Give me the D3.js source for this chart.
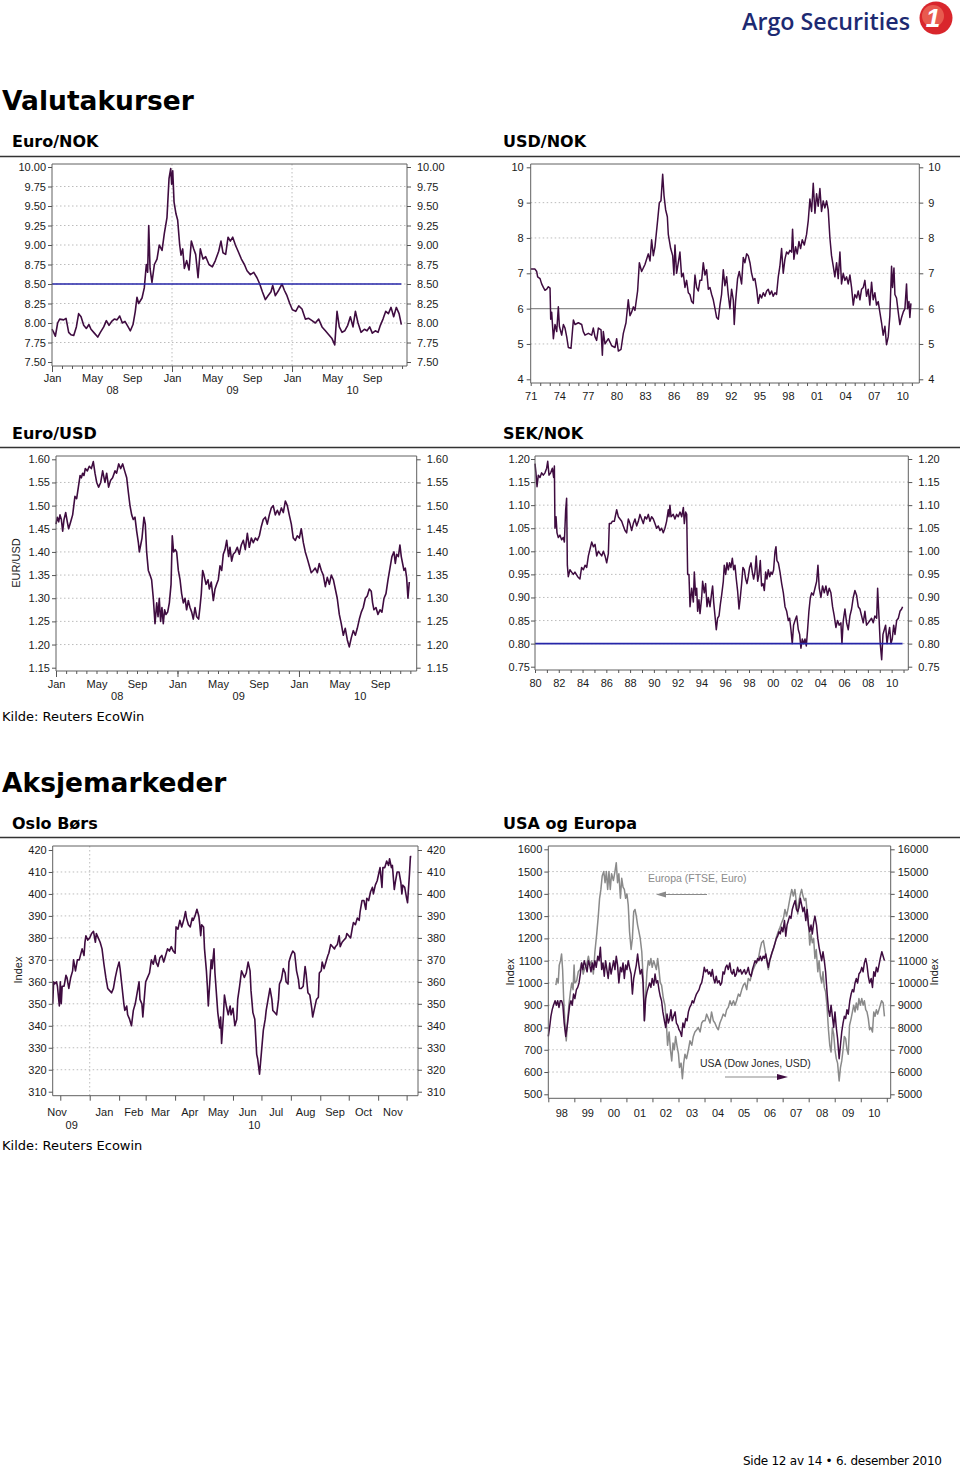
<!DOCTYPE html>
<html><head><meta charset="utf-8">
<script src="https://cdn.jsdelivr.net/npm/d3@7"></script>
<style>
body{margin:0;background:#fff;}
svg{display:block;}
</style></head><body>
<svg id="page" width="960" height="1467"></svg>
<script>
// ---------------- DATA ----------------
const euroNokDates = [2008.000,2008.014,2008.028,2008.047,2008.064,2008.097,2008.117,2008.139,2008.158,2008.181,2008.203,2008.222,2008.242,2008.264,2008.286,2008.308,2008.325,2008.353,2008.381,2008.403,2008.431,2008.453,2008.475,2008.497,2008.519,2008.542,2008.564,2008.586,2008.608,2008.631,2008.653,2008.675,2008.694,2008.708,2008.722,2008.750,2008.769,2008.786,2008.797,2008.806,2008.817,2008.833,2008.853,2008.875,2008.894,2008.917,2008.936,2008.958,2008.975,2008.989,2008.997,2009.006,2009.017,2009.033,2009.047,2009.064,2009.075,2009.089,2009.103,2009.122,2009.142,2009.161,2009.181,2009.197,2009.217,2009.236,2009.258,2009.281,2009.308,2009.336,2009.361,2009.389,2009.408,2009.425,2009.447,2009.467,2009.486,2009.506,2009.528,2009.556,2009.578,2009.603,2009.625,2009.653,2009.681,2009.708,2009.731,2009.753,2009.778,2009.800,2009.825,2009.839,2009.861,2009.889,2009.917,2009.936,2009.958,2009.981,2010.003,2010.031,2010.056,2010.083,2010.111,2010.139,2010.167,2010.194,2010.222,2010.250,2010.278,2010.306,2010.333,2010.356,2010.375,2010.394,2010.417,2010.439,2010.464,2010.486,2010.508,2010.528,2010.550,2010.575,2010.603,2010.625,2010.647,2010.669,2010.694,2010.717,2010.736,2010.758,2010.781,2010.803,2010.825,2010.847,2010.869,2010.892,2010.911];
const euroNokValues = [7.92,7.88,7.83,8.00,8.05,8.04,8.06,7.88,7.85,7.84,7.95,8.12,8.08,7.97,7.93,7.98,7.92,7.87,7.82,7.88,7.95,8.03,7.97,8.02,8.05,8.04,8.09,8.00,8.02,7.96,7.90,7.98,8.15,8.33,8.25,8.32,8.45,8.75,8.65,9.25,8.70,8.52,8.75,8.82,9.00,8.93,9.15,9.35,9.85,9.98,9.78,9.95,9.55,9.40,9.32,9.00,8.87,8.95,8.70,8.80,8.68,9.05,8.95,8.88,8.58,8.95,8.82,8.85,8.75,8.72,8.80,8.92,9.05,8.90,8.88,9.10,9.05,9.10,9.00,8.90,8.82,8.75,8.67,8.62,8.65,8.58,8.50,8.40,8.30,8.35,8.40,8.48,8.35,8.42,8.50,8.42,8.35,8.25,8.17,8.15,8.22,8.18,8.05,8.06,8.03,8.00,8.05,7.95,7.90,7.85,7.80,7.72,8.15,7.95,7.88,7.90,7.97,8.08,7.95,8.15,8.00,7.88,7.92,7.90,7.95,7.87,7.90,7.88,7.97,8.05,8.15,8.12,8.20,8.08,8.20,8.12,7.98];
const euroNokTarget = 8.5;

const usdNokDates = [1971.00,1971.45,1971.63,1971.73,1971.98,1972.15,1972.33,1972.50,1972.68,1972.85,1973.03,1973.10,1973.20,1973.38,1973.55,1973.73,1973.90,1974.01,1974.25,1974.43,1974.60,1974.78,1974.95,1975.23,1975.48,1975.65,1976.00,1976.35,1976.52,1976.70,1977.05,1977.40,1977.57,1977.75,1977.92,1978.10,1978.38,1978.52,1978.62,1978.80,1979.15,1979.50,1979.85,1980.02,1980.20,1980.48,1980.72,1981.00,1981.24,1981.42,1981.59,1981.77,1981.94,1982.22,1982.40,1982.64,1982.99,1983.34,1983.52,1983.69,1983.87,1984.04,1984.32,1984.50,1984.67,1984.85,1984.99,1985.16,1985.34,1985.44,1985.69,1985.90,1986.03,1986.14,1986.31,1986.49,1986.66,1986.84,1987.01,1987.19,1987.36,1987.54,1987.71,1987.89,1988.06,1988.24,1988.41,1988.59,1988.76,1988.94,1989.11,1989.29,1989.46,1989.64,1989.81,1989.99,1990.16,1990.34,1990.51,1990.69,1990.86,1991.03,1991.21,1991.38,1991.56,1991.73,1991.91,1992.08,1992.26,1992.36,1992.50,1992.71,1992.89,1993.13,1993.31,1993.48,1993.66,1993.83,1994.01,1994.18,1994.36,1994.53,1994.71,1994.88,1995.06,1995.23,1995.41,1995.58,1995.76,1995.93,1996.10,1996.28,1996.45,1996.63,1996.80,1996.98,1997.15,1997.33,1997.50,1997.68,1997.85,1998.03,1998.20,1998.38,1998.48,1998.62,1998.80,1998.97,1999.15,1999.32,1999.50,1999.71,1999.95,2000.13,2000.30,2000.48,2000.65,2000.83,2001.00,2001.17,2001.35,2001.52,2001.70,2001.87,2002.05,2002.22,2002.40,2002.57,2002.75,2002.92,2003.10,2003.27,2003.45,2003.62,2003.80,2003.97,2004.15,2004.32,2004.50,2004.67,2004.85,2005.02,2005.20,2005.37,2005.55,2005.72,2005.90,2006.07,2006.24,2006.42,2006.59,2006.77,2006.94,2007.12,2007.29,2007.47,2007.64,2007.82,2007.99,2008.17,2008.34,2008.52,2008.69,2008.87,2008.97,2009.12,2009.22,2009.39,2009.57,2009.74,2009.92,2010.09,2010.27,2010.44,2010.55,2010.69,2010.79,2010.90];
const usdNokValues = [7.12,7.12,7.05,6.90,6.85,6.70,6.60,6.52,6.55,6.62,6.58,5.70,5.90,5.15,5.55,5.35,6.05,5.50,5.25,5.55,5.45,5.20,4.90,4.88,5.68,5.55,5.60,5.55,5.35,5.25,5.30,5.25,5.45,5.20,5.10,5.45,5.40,4.68,5.35,5.00,5.15,4.95,4.90,5.15,4.80,4.85,5.30,5.60,6.25,5.80,5.90,6.05,5.95,6.50,7.30,7.05,7.25,7.55,7.35,7.95,7.50,7.75,8.50,9.00,9.05,9.80,9.20,8.80,8.60,8.10,7.70,7.50,6.95,7.80,7.00,7.30,7.60,6.90,7.00,6.60,6.80,6.45,6.40,6.20,6.15,6.95,6.60,6.50,6.80,6.80,7.30,6.95,7.10,6.55,6.60,6.40,6.25,6.00,5.75,5.70,6.10,6.40,7.10,6.65,6.90,6.40,6.00,6.55,6.25,5.55,6.20,6.85,7.05,6.70,7.45,7.30,7.55,7.50,7.30,7.00,6.80,6.85,6.55,6.15,6.40,6.30,6.45,6.35,6.50,6.55,6.40,6.50,6.35,6.45,6.40,6.90,7.20,7.70,7.00,7.40,7.60,7.55,7.65,7.60,8.25,7.40,7.75,7.55,7.90,7.70,7.95,7.80,8.10,8.50,9.10,8.75,9.55,8.70,9.25,8.90,9.40,8.75,9.05,8.85,9.05,8.80,8.00,7.50,7.20,6.90,7.30,6.85,7.60,6.70,7.00,6.80,6.90,6.70,6.95,6.60,6.10,6.40,6.30,6.50,6.25,6.55,6.60,6.80,6.35,6.55,6.10,6.75,6.25,6.45,6.10,6.20,5.90,5.60,5.25,5.50,4.98,5.20,5.80,7.20,6.60,7.15,6.40,6.30,5.90,5.55,5.75,5.90,6.00,6.70,6.00,6.20,5.75,6.15];
const usdNokAverage = 6;

const euroUsdDates = [2008.000,2008.011,2008.022,2008.033,2008.044,2008.055,2008.066,2008.080,2008.093,2008.104,2008.121,2008.137,2008.156,2008.170,2008.184,2008.198,2008.209,2008.219,2008.230,2008.241,2008.258,2008.274,2008.291,2008.307,2008.321,2008.335,2008.351,2008.368,2008.384,2008.403,2008.417,2008.433,2008.450,2008.466,2008.486,2008.499,2008.516,2008.532,2008.549,2008.565,2008.582,2008.595,2008.609,2008.623,2008.636,2008.650,2008.664,2008.678,2008.686,2008.697,2008.708,2008.724,2008.735,2008.746,2008.760,2008.774,2008.787,2008.801,2008.815,2008.829,2008.840,2008.850,2008.861,2008.872,2008.883,2008.894,2008.905,2008.919,2008.933,2008.947,2008.957,2008.968,2008.982,2008.993,2009.007,2009.021,2009.034,2009.048,2009.062,2009.075,2009.089,2009.103,2009.117,2009.130,2009.144,2009.158,2009.174,2009.185,2009.196,2009.207,2009.218,2009.235,2009.251,2009.262,2009.278,2009.295,2009.309,2009.322,2009.336,2009.350,2009.364,2009.377,2009.391,2009.405,2009.421,2009.432,2009.446,2009.459,2009.476,2009.492,2009.509,2009.525,2009.542,2009.558,2009.575,2009.591,2009.608,2009.624,2009.641,2009.657,2009.674,2009.690,2009.706,2009.723,2009.739,2009.756,2009.772,2009.788,2009.805,2009.822,2009.838,2009.855,2009.871,2009.888,2009.904,2009.920,2009.937,2009.953,2009.970,2009.986,2010.003,2010.019,2010.036,2010.052,2010.069,2010.085,2010.101,2010.118,2010.134,2010.151,2010.167,2010.184,2010.200,2010.217,2010.233,2010.250,2010.266,2010.283,2010.299,2010.315,2010.332,2010.348,2010.365,2010.381,2010.398,2010.414,2010.431,2010.447,2010.464,2010.480,2010.497,2010.513,2010.529,2010.546,2010.562,2010.579,2010.595,2010.606,2010.617,2010.634,2010.650,2010.667,2010.683,2010.700,2010.716,2010.733,2010.749,2010.765,2010.782,2010.793,2010.804,2010.818,2010.831,2010.842,2010.853,2010.864,2010.875,2010.886,2010.897,2010.908];
const euroUsdValues = [1.46,1.475,1.465,1.48,1.47,1.445,1.47,1.485,1.465,1.45,1.465,1.48,1.52,1.515,1.54,1.565,1.56,1.57,1.565,1.58,1.575,1.585,1.58,1.595,1.57,1.55,1.54,1.55,1.575,1.55,1.57,1.54,1.555,1.56,1.575,1.57,1.59,1.58,1.59,1.575,1.56,1.53,1.50,1.48,1.47,1.475,1.445,1.42,1.40,1.415,1.43,1.475,1.46,1.40,1.36,1.35,1.34,1.30,1.245,1.29,1.26,1.30,1.25,1.28,1.245,1.275,1.265,1.27,1.29,1.33,1.435,1.40,1.405,1.40,1.36,1.34,1.31,1.29,1.30,1.275,1.295,1.28,1.27,1.255,1.28,1.26,1.255,1.28,1.31,1.36,1.35,1.33,1.34,1.32,1.335,1.295,1.32,1.33,1.34,1.37,1.36,1.395,1.405,1.425,1.39,1.41,1.38,1.395,1.40,1.41,1.395,1.415,1.425,1.405,1.44,1.41,1.43,1.42,1.43,1.425,1.435,1.455,1.47,1.475,1.46,1.48,1.495,1.50,1.48,1.49,1.48,1.495,1.485,1.51,1.50,1.48,1.46,1.43,1.425,1.435,1.43,1.45,1.42,1.40,1.385,1.37,1.355,1.36,1.365,1.355,1.375,1.36,1.35,1.325,1.345,1.33,1.35,1.34,1.32,1.30,1.265,1.245,1.22,1.235,1.21,1.195,1.215,1.23,1.22,1.235,1.255,1.27,1.28,1.30,1.305,1.32,1.315,1.29,1.275,1.28,1.265,1.275,1.27,1.30,1.31,1.34,1.365,1.39,1.40,1.375,1.395,1.39,1.415,1.39,1.375,1.36,1.365,1.345,1.30,1.335];

const sekNokDates = [1980.00,1980.08,1980.17,1980.28,1980.42,1980.56,1980.70,1980.84,1980.98,1981.07,1981.18,1981.32,1981.46,1981.57,1981.63,1981.68,1981.77,1981.85,1981.96,1982.10,1982.24,1982.38,1982.47,1982.58,1982.66,1982.72,1982.80,1982.94,1983.08,1983.22,1983.36,1983.59,1983.78,1983.92,1984.07,1984.21,1984.35,1984.49,1984.63,1984.77,1984.91,1985.05,1985.19,1985.33,1985.47,1985.61,1985.75,1985.89,1986.03,1986.17,1986.25,1986.39,1986.50,1986.67,1986.87,1987.01,1987.15,1987.29,1987.43,1987.57,1987.71,1987.85,1987.99,1988.13,1988.27,1988.41,1988.55,1988.69,1988.83,1988.97,1989.11,1989.25,1989.39,1989.53,1989.67,1989.81,1989.95,1990.09,1990.23,1990.37,1990.51,1990.65,1990.79,1990.93,1991.07,1991.21,1991.27,1991.35,1991.44,1991.63,1991.77,1991.91,1992.05,1992.20,1992.34,1992.48,1992.56,1992.67,1992.76,1992.84,1992.95,1993.04,1993.18,1993.32,1993.40,1993.51,1993.60,1993.68,1993.79,1993.88,1994.02,1994.10,1994.24,1994.35,1994.47,1994.58,1994.72,1994.86,1994.94,1995.03,1995.14,1995.25,1995.36,1995.48,1995.59,1995.70,1995.84,1995.92,1996.04,1996.15,1996.26,1996.37,1996.48,1996.60,1996.71,1996.82,1996.93,1997.04,1997.16,1997.27,1997.38,1997.49,1997.61,1997.72,1997.83,1997.94,1998.05,1998.17,1998.28,1998.39,1998.50,1998.61,1998.73,1998.84,1998.95,1999.06,1999.18,1999.29,1999.40,1999.51,1999.62,1999.74,1999.85,1999.96,2000.07,2000.19,2000.27,2000.35,2000.47,2000.61,2000.75,2000.89,2001.03,2001.17,2001.31,2001.42,2001.53,2001.64,2001.75,2001.87,2002.01,2002.15,2002.26,2002.37,2002.48,2002.59,2002.71,2002.82,2002.93,2003.04,2003.16,2003.27,2003.41,2003.55,2003.69,2003.80,2003.91,2004.05,2004.19,2004.33,2004.47,2004.61,2004.75,2004.89,2005.03,2005.17,2005.31,2005.45,2005.59,2005.73,2005.82,2005.93,2006.07,2006.21,2006.35,2006.49,2006.63,2006.77,2006.91,2007.05,2007.19,2007.33,2007.47,2007.61,2007.75,2007.89,2008.03,2008.17,2008.31,2008.45,2008.59,2008.74,2008.82,2008.93,2009.04,2009.16,2009.27,2009.38,2009.49,2009.61,2009.72,2009.83,2009.94,2010.05,2010.17,2010.28,2010.42,2010.56,2010.70,2010.84,2010.92];
const sekNokValues = [1.19,1.17,1.14,1.165,1.16,1.17,1.165,1.17,1.18,1.195,1.165,1.17,1.18,1.16,1.185,1.05,1.075,1.04,1.03,1.035,1.025,1.03,1.02,1.09,1.115,0.97,0.945,0.96,0.955,0.95,0.955,0.945,0.94,0.965,0.96,0.97,0.965,0.99,1.005,1.02,1.01,1.015,0.99,1.00,0.995,0.99,1.00,0.99,0.975,0.995,1.06,1.06,1.065,1.065,1.09,1.075,1.07,1.065,1.055,1.045,1.04,1.07,1.06,1.045,1.06,1.07,1.055,1.065,1.08,1.07,1.06,1.075,1.07,1.08,1.065,1.075,1.07,1.06,1.05,1.055,1.045,1.05,1.04,1.05,1.065,1.09,1.075,1.10,1.075,1.08,1.07,1.08,1.075,1.085,1.075,1.095,1.06,1.085,1.08,0.95,0.95,0.88,0.92,0.89,0.955,0.905,0.92,0.87,0.895,0.865,0.90,0.935,0.91,0.93,0.88,0.90,0.88,0.91,0.925,0.89,0.86,0.83,0.855,0.86,0.885,0.905,0.935,0.97,0.95,0.975,0.96,0.975,0.965,0.985,0.96,0.97,0.94,0.915,0.875,0.90,0.93,0.965,0.96,0.94,0.93,0.945,0.965,0.975,0.955,0.94,0.955,0.99,0.935,0.95,0.98,0.925,0.93,0.915,0.955,0.94,0.96,0.945,0.955,0.95,0.96,1.00,1.01,0.98,0.975,0.955,0.93,0.91,0.88,0.87,0.85,0.855,0.83,0.80,0.84,0.85,0.86,0.83,0.82,0.79,0.81,0.80,0.81,0.795,0.83,0.87,0.90,0.91,0.905,0.92,0.935,0.97,0.92,0.90,0.925,0.91,0.925,0.905,0.92,0.91,0.88,0.86,0.835,0.85,0.84,0.845,0.80,0.85,0.875,0.845,0.83,0.86,0.875,0.90,0.915,0.905,0.88,0.875,0.86,0.845,0.87,0.84,0.845,0.85,0.855,0.845,0.86,0.855,0.92,0.86,0.80,0.765,0.82,0.83,0.84,0.80,0.82,0.835,0.80,0.81,0.84,0.82,0.85,0.855,0.87,0.875,0.88];
const sekNokTarget = 0.80;

// Oslo Børs: days relative to 1 Jan 2010
const osloDays = [-39,-38,-37,-35,-34,-32,-31,-30,-29,-27,-25,-24,-22,-20,-18,-17,-15,-13,-11,-8,-6,-5,-4,-2,0,2,4,6,7,9,11,13,15,17,19,21,23,25,27,29,31,32,34,36,37,39,40,42,44,46,48,50,52,53,55,56,58,59,61,63,65,67,69,70,72,74,76,78,80,82,84,86,88,90,91,93,95,97,99,101,102,104,106,108,109,111,113,115,116,117,118,120,121,123,124,125,127,128,129,131,132,134,135,137,138,139,141,142,144,146,148,149,151,153,155,156,158,160,162,163,165,167,169,170,172,174,176,177,179,180,181,183,185,186,188,190,192,193,195,197,199,200,202,204,206,207,209,210,212,214,216,218,220,221,223,225,227,228,230,232,234,235,237,239,241,242,244,245,247,249,251,252,254,256,258,259,261,263,264,266,268,270,271,273,275,277,278,280,282,284,285,287,289,291,292,294,296,298,299,301,303,305,306,308,309,311,313,315,316,318,319,321,322,324,326,328,329,330,332,334,335,337,338,339];
const osloValues = [350,360,359,360,358,349,360,350,358,358,363,362,357,362,365,370,365,370,370,375,372,378,381,379,380,382,383,378,382,380,378,375,368,362,357,356,355,357,362,366,369,366,358,350,347,349,345,343,340,347,350,355,360,352,350,344,355,360,362,364,370,368,372,369,367,371,372,369,372,375,374,376,374,373,385,384,388,385,388,392,389,386,385,389,388,390,393,390,386,381,386,385,375,365,358,349,363,370,366,375,364,352,346,339,344,332,345,354,349,345,349,345,348,340,343,352,358,365,363,362,364,369,365,356,346,343,327,325,318,323,328,338,343,347,352,357,352,347,346,345,352,359,361,366,364,360,359,369,372,374,373,365,361,357,357,358,367,364,355,354,348,344,348,352,353,364,365,369,366,369,372,373,377,376,375,376,377,381,376,378,379,380,382,381,380,385,387,386,389,388,392,397,397,393,398,397,401,403,400,404,406,410,412,403,412,412,415,413,416,412,413,402,405,410,410,405,400,404,403,398,396,409,417,417];

const europaDates = [1998.29,1998.33,1998.38,1998.42,1998.47,1998.51,1998.55,1998.59,1998.64,1998.69,1998.74,1998.79,1998.85,1998.90,1998.95,1998.99,1999.02,1999.09,1999.15,1999.22,1999.28,1999.34,1999.41,1999.47,1999.54,1999.60,1999.66,1999.73,1999.79,1999.86,1999.92,1999.97,2000.02,2000.07,2000.13,2000.18,2000.23,2000.28,2000.33,2000.38,2000.43,2000.50,2000.56,2000.61,2000.66,2000.71,2000.77,2000.82,2000.87,2000.92,2000.97,2001.02,2001.07,2001.12,2001.18,2001.23,2001.28,2001.33,2001.38,2001.43,2001.48,2001.53,2001.59,2001.64,2001.69,2001.74,2001.79,2001.84,2001.89,2001.94,2001.99,2002.05,2002.10,2002.15,2002.20,2002.25,2002.30,2002.35,2002.42,2002.48,2002.53,2002.58,2002.64,2002.69,2002.74,2002.79,2002.84,2002.89,2002.94,2003.00,2003.04,2003.10,2003.15,2003.20,2003.25,2003.31,2003.38,2003.44,2003.51,2003.57,2003.63,2003.70,2003.76,2003.83,2003.89,2003.95,2004.02,2004.08,2004.15,2004.21,2004.27,2004.34,2004.40,2004.47,2004.53,2004.59,2004.66,2004.72,2004.79,2004.85,2004.91,2004.98,2005.04,2005.11,2005.17,2005.23,2005.30,2005.36,2005.43,2005.49,2005.55,2005.62,2005.68,2005.75,2005.81,2005.87,2005.94,2006.00,2006.07,2006.13,2006.19,2006.26,2006.32,2006.39,2006.45,2006.51,2006.58,2006.64,2006.71,2006.77,2006.83,2006.90,2006.96,2007.03,2007.09,2007.15,2007.22,2007.28,2007.35,2007.41,2007.47,2007.54,2007.58,2007.63,2007.68,2007.73,2007.78,2007.84,2007.89,2007.94,2007.99,2008.04,2008.09,2008.14,2008.19,2008.24,2008.29,2008.35,2008.40,2008.45,2008.50,2008.55,2008.60,2008.65,2008.70,2008.76,2008.81,2008.86,2008.91,2008.96,2009.01,2009.06,2009.11,2009.17,2009.22,2009.27,2009.32,2009.37,2009.42,2009.47,2009.52,2009.57,2009.63,2009.68,2009.73,2009.78,2009.83,2009.88,2009.93,2009.98,2010.04,2010.09,2010.14,2010.19,2010.24,2010.29,2010.34,2010.39,2010.45,2010.50,2010.55,2010.60,2010.65,2010.70,2010.75,2010.80,2010.86,2010.91];
const europaValues = [990,1020,1000,1080,1100,1130,1060,930,820,740,830,900,960,1000,970,1080,1000,1010,1050,1060,1090,1040,1070,1080,1120,1080,1100,1040,1140,1220,1300,1380,1420,1480,1500,1450,1500,1420,1500,1420,1490,1460,1500,1540,1450,1490,1380,1470,1430,1420,1380,1400,1350,1230,1150,1200,1320,1330,1300,1260,1230,1200,1140,1030,830,950,1050,1100,1080,1110,1070,1100,1080,1060,1110,1060,1000,990,930,900,830,720,780,700,650,730,700,760,720,680,620,640,570,640,680,660,700,740,720,760,780,790,800,780,820,830,830,860,840,820,870,830,820,800,790,820,840,860,850,880,890,920,900,920,900,920,950,940,970,990,1000,970,1020,1010,1040,1060,1080,1090,1110,1150,1180,1190,1150,1100,1060,1100,1130,1150,1180,1210,1230,1250,1270,1290,1330,1300,1340,1380,1420,1390,1420,1350,1310,1370,1400,1420,1390,1370,1380,1320,1270,1170,1220,1180,1200,1110,1150,1050,1100,1030,1000,1050,980,960,900,790,720,690,800,770,700,660,640,560,620,650,700,760,750,700,680,810,840,870,900,870,910,880,930,900,930,900,920,880,870,840,790,800,780,870,850,880,860,880,900,920,910,850];

const dowDates = [1998.00,1998.05,1998.10,1998.15,1998.20,1998.26,1998.31,1998.36,1998.41,1998.46,1998.51,1998.56,1998.61,1998.67,1998.72,1998.77,1998.82,1998.87,1998.92,1998.97,1999.02,1999.08,1999.13,1999.18,1999.23,1999.28,1999.33,1999.38,1999.43,1999.49,1999.54,1999.59,1999.64,1999.69,1999.74,1999.79,1999.84,1999.90,1999.95,2000.00,2000.05,2000.10,2000.15,2000.20,2000.25,2000.30,2000.36,2000.41,2000.46,2000.51,2000.56,2000.61,2000.66,2000.71,2000.77,2000.82,2000.87,2000.92,2000.97,2001.02,2001.07,2001.12,2001.18,2001.23,2001.28,2001.33,2001.38,2001.43,2001.48,2001.53,2001.59,2001.64,2001.69,2001.74,2001.79,2001.84,2001.89,2001.94,2001.99,2002.05,2002.10,2002.15,2002.20,2002.25,2002.30,2002.35,2002.40,2002.46,2002.51,2002.56,2002.61,2002.66,2002.71,2002.76,2002.81,2002.87,2002.92,2002.97,2003.02,2003.07,2003.12,2003.17,2003.22,2003.28,2003.33,2003.38,2003.43,2003.48,2003.53,2003.58,2003.63,2003.69,2003.74,2003.79,2003.84,2003.89,2003.94,2003.99,2004.04,2004.10,2004.15,2004.20,2004.25,2004.30,2004.35,2004.40,2004.45,2004.50,2004.56,2004.61,2004.66,2004.71,2004.76,2004.81,2004.86,2004.91,2004.97,2005.02,2005.07,2005.12,2005.17,2005.22,2005.27,2005.32,2005.38,2005.43,2005.48,2005.53,2005.58,2005.63,2005.68,2005.73,2005.79,2005.84,2005.89,2005.94,2005.99,2006.04,2006.09,2006.14,2006.20,2006.25,2006.30,2006.35,2006.40,2006.45,2006.50,2006.55,2006.60,2006.66,2006.71,2006.76,2006.81,2006.86,2006.91,2006.96,2007.01,2007.07,2007.12,2007.17,2007.22,2007.27,2007.32,2007.37,2007.42,2007.48,2007.53,2007.58,2007.63,2007.68,2007.73,2007.78,2007.83,2007.89,2007.94,2007.99,2008.04,2008.09,2008.14,2008.19,2008.24,2008.30,2008.35,2008.40,2008.45,2008.50,2008.55,2008.60,2008.65,2008.71,2008.76,2008.81,2008.86,2008.91,2008.96,2009.01,2009.06,2009.11,2009.17,2009.22,2009.27,2009.32,2009.37,2009.42,2009.47,2009.52,2009.58,2009.63,2009.68,2009.73,2009.78,2009.83,2009.88,2009.93,2009.99,2010.04,2010.09,2010.14,2010.19,2010.24,2010.29,2010.34,2010.40,2010.45,2010.50,2010.55,2010.60,2010.65,2010.70,2010.75,2010.81,2010.86,2010.91];
const dowValues = [7600,8000,8500,8800,9000,9200,9000,9200,8900,9200,9200,9000,8200,7600,8000,8500,9000,9200,9000,9500,9300,9700,9800,10000,10400,10900,10600,11000,10800,10500,11000,10800,10500,10900,10600,11000,10700,11200,11000,11600,10600,10900,10300,11000,10600,10200,10900,10400,10700,11000,10600,11200,10800,10000,10700,10500,10900,10200,10800,10600,11000,10700,10400,9500,10200,10500,10800,11300,10800,10400,10600,10000,8300,9300,9600,9800,10000,9800,10200,9900,10400,10000,10100,9700,9400,9200,8700,8300,8000,8600,8200,8400,8800,8300,8500,8700,8200,8100,7900,7800,7600,8200,8000,8400,8300,8700,8900,9000,9200,9100,9300,9500,9600,9700,9900,10000,10300,10700,10500,10600,10400,10500,10300,10600,10200,10000,10300,10000,10100,9900,10000,10500,10400,10700,10800,10600,10900,10500,10400,10600,10300,10400,10700,10500,10600,10400,10500,10600,10400,10500,10700,10400,10300,10600,10800,11000,10900,11100,11000,11200,11000,11200,11100,11300,11000,10700,11000,11200,11400,11600,11800,12000,12100,12300,12200,12500,12300,12800,12100,12600,12800,13000,12900,13300,13500,13700,13300,13200,13400,13800,13500,13200,13400,12800,13300,12600,12300,12600,12200,12700,13000,12600,12000,11600,11300,11000,11400,11000,10500,9500,8800,8500,9000,8500,8000,8700,8000,7500,6600,7200,7800,8200,8500,8400,8800,8600,9200,9500,9700,9600,10000,10200,10000,10400,10500,10700,10500,10900,11100,10800,10300,10000,10200,9800,10500,10300,10700,10500,10800,11100,11400,11200,11000];

// Tick labels
const monthLabels3 = ["Jan","May","Sep"];
const fxYearLabels = ["08","09","10"];
const usdNokYearLabels = ["71","74","77","80","83","86","89","92","95","98","01","04","07","10"];
const sekNokYearLabels = ["80","82","84","86","88","90","92","94","96","98","00","02","04","06","08","10"];
const usaYearLabels = ["98","99","00","01","02","03","04","05","06","07","08","09","10"];
const osloMonthLabels = ["Nov","Jan","Feb","Mar","Apr","May","Jun","Jul","Aug","Sep","Oct","Nov"];
const osloYearLabels = ["09","10"];
const euroNokTicks = [7.5,7.75,8,8.25,8.5,8.75,9,9.25,9.5,9.75,10];
const usdNokTicks = [4,5,6,7,8,9,10];
const euroUsdTicks = [1.15,1.2,1.25,1.3,1.35,1.4,1.45,1.5,1.55,1.6];
const sekNokTicks = [0.75,0.8,0.85,0.9,0.95,1.0,1.05,1.1,1.15,1.2];
const osloTicks = [310,320,330,340,350,360,370,380,390,400,410,420];
const europaTicks = [500,600,700,800,900,1000,1100,1200,1300,1400,1500,1600];
const dowTicks = [5000,6000,7000,8000,9000,10000,11000,12000,13000,14000,15000,16000];

// ---------------- DRAWING ----------------
const svg = d3.select("#page");
const SANS = "'Liberation Sans', Arial, Helvetica, sans-serif";
const VERD = "'DejaVu Sans', Verdana, sans-serif";
const PURPLE = "#3f0c40";
const BLUE = "#2626a8";
const GRAY = "#8a8a8a";

function styleAxis(a, size) {
  a.select(".domain").remove();
  a.selectAll("line").attr("stroke", "#555");
  a.selectAll("text").attr("font-family", SANS).attr("font-size", size || 11).attr("fill", "#1a1a1a");
}

function drawChart(o) {
  const g = svg.append("g");
  const x = o.x, y = o.y;
  const [L, R] = x.range();
  const conv = o.toX || (d => d);
  g.append("g").selectAll("line").data(o.grid).join("line")
    .attr("x1", L).attr("x2", R).attr("y1", d => y(d)).attr("y2", d => y(d))
    .attr("stroke", "#b4b4b4").attr("stroke-width", 0.9).attr("stroke-dasharray", "1.5,2.5");
  g.append("g").selectAll("line").data(o.vgrid || []).join("line")
    .attr("x1", d => x(d)).attr("x2", d => x(d)).attr("y1", o.T).attr("y2", o.B)
    .attr("stroke", "#b4b4b4").attr("stroke-width", 0.9).attr("stroke-dasharray", "1.5,2.5");
  const refLine = r => g.append("line")
    .attr("x1", x(conv(r.from))).attr("x2", x(conv(r.to)))
    .attr("y1", y(r.value)).attr("y2", y(r.value))
    .attr("stroke", r.color).attr("stroke-width", r.width);
  (o.refs || []).filter(r => !r.above).forEach(refLine);
  o.series.forEach(s => {
    const n = Math.min(s.dates.length, s.values.length);
    const pts = d3.range(n).map(i => [s.dates[i], s.values[i]]);
    const ys = s.y || y;
    g.append("path").datum(pts)
      .attr("fill", "none").attr("stroke", s.color).attr("stroke-width", s.width || 1.6)
      .attr("stroke-linejoin", "round")
      .attr("d", d3.line().x(d => x(conv(d[0]))).y(d => ys(d[1])));
  });
  (o.refs || []).filter(r => r.above).forEach(refLine);
  g.append("path").attr("d", `M${L},${o.B}V${o.T}H${R}V${o.B}Z`)
    .attr("fill", "none").attr("stroke", "#606060").attr("stroke-width", 1);
  const la = g.append("g").attr("transform", `translate(${L},0)`)
    .call(d3.axisLeft(y).tickValues(o.yTicks).tickFormat(o.fmt).tickSize(4).tickPadding(o.lpad || 2));
  styleAxis(la);
  const yr = o.yR || y;
  const ra = g.append("g").attr("transform", `translate(${R},0)`)
    .call(d3.axisRight(yr).tickValues(o.yRTicks || o.yTicks).tickFormat(o.fmtR || o.fmt).tickSize(4).tickPadding(o.rpad || 6));
  styleAxis(ra);
  o.xTicks.forEach(t => {
    const a = g.append("g").attr("transform", `translate(0,${o.B})`)
      .call(d3.axisBottom(x).tickValues(t.values).tickFormat("").tickSize(t.len));
    styleAxis(a);
  });
  o.xLabels.forEach(l => {
    const a = g.append("g").attr("transform", `translate(0,${l.y})`)
      .call(d3.axisBottom(x).tickValues(l.values).tickFormat((d, i) => l.labels[i]).tickSize(0).tickPadding(0));
    styleAxis(a);
    a.selectAll("text").attr("y", 0).attr("dy", 0);
  });
  return g;
}

const f2 = d3.format(".2f");
const f0 = d3.format("d");

// ---------- Header ----------
svg.append("text").attr("x", 742).attr("y", 30).text("Argo Securities")
  .attr("font-family", "'Open Sans', 'Liberation Sans', sans-serif").attr("font-size", 24).attr("font-weight", 600)
  .attr("fill", "#1d2a72").attr("textLength", 168).attr("lengthAdjust", "spacingAndGlyphs");
svg.append("circle").attr("cx", 936).attr("cy", 18).attr("r", 16.5).attr("fill", "#d9262c");
svg.append("circle").attr("cx", 933).attr("cy", 16).attr("r", 11).attr("fill", "#e85a4f");
svg.append("text").attr("x", 933).attr("y", 27).attr("text-anchor", "middle").text("1")
  .attr("font-family", SANS).attr("font-size", 26).attr("font-weight", 700).attr("font-style", "italic").attr("fill", "#fff");

function h1(txt, yy) {
  svg.append("text").attr("x", 2).attr("y", yy).text(txt)
    .attr("font-family", VERD).attr("font-size", 26.5).attr("font-weight", 700).attr("fill", "#000");
}
function h2(txt, xx, yy) {
  svg.append("text").attr("x", xx).attr("y", yy).text(txt)
    .attr("font-family", VERD).attr("font-size", 16).attr("font-weight", 700).attr("fill", "#000");
}
function rule(yy) {
  svg.append("line").attr("x1", 0).attr("x2", 960).attr("y1", yy).attr("y2", yy)
    .attr("stroke", "#333").attr("stroke-width", 1.3);
}
function note(txt, xx, yy) {
  svg.append("text").attr("x", xx).attr("y", yy).text(txt)
    .attr("font-family", VERD).attr("font-size", 13).attr("fill", "#000");
}
function vlabel(txt, xx, yy) {
  svg.append("text").attr("transform", `translate(${xx},${yy}) rotate(-90)`).attr("text-anchor", "middle")
    .text(txt).attr("font-family", SANS).attr("font-size", 11).attr("fill", "#1a1a1a");
}

h1("Valutakurser", 110);
h2("Euro/NOK", 12, 147);
h2("USD/NOK", 503, 147);
rule(156.5);
h2("Euro/USD", 12, 439);
h2("SEK/NOK", 503, 439);
rule(447.5);
note("Kilde: Reuters EcoWin", 2, 721);
h1("Aksjemarkeder", 792);
h2("Oslo Børs", 12, 829);
h2("USA og Europa", 503, 829);
rule(837.5);
note("Kilde: Reuters Ecowin", 2, 1150);
svg.append("text").attr("x", 743).attr("y", 1465).text("Side 12 av 14 \u2022 6. desember 2010")
  .attr("font-family", VERD).attr("font-size", 12).attr("fill", "#000").attr("textLength", 199);

const monthPos = (y0, y1) => d3.range(y0 * 12, y1 * 12).map(m => m / 12);
const labelPos3 = [2008, 2009, 2010].flatMap(yy => [0, 4, 8].map(m => yy + m / 12));
const labelTxt3 = [2008, 2009, 2010].flatMap(() => monthLabels3);

// ---------- Euro/NOK ----------
drawChart({
  x: d3.scaleLinear().domain([2008, 2010.958]).range([52, 407]),
  y: d3.scaleLinear().domain([7.5, 10]).range([362, 167]),
  T: 164, B: 366,
  grid: euroNokTicks.slice(1, -1), vgrid: [2009, 2010],
  yTicks: euroNokTicks, fmt: f2, rpad: 6,
  refs: [{ value: euroNokTarget, from: 2008, to: euroNokDates[euroNokDates.length - 1], color: BLUE, width: 1.6, above: true }],
  series: [{ dates: euroNokDates, values: euroNokValues, color: PURPLE }],
  xTicks: [{ values: monthPos(2008, 2011).filter(v => v < 2010.958), len: 3 }, { values: [2008, 2009, 2010], len: 6 }],
  xLabels: [{ values: labelPos3, labels: labelTxt3, y: 382 }, { values: [2008.5, 2009.5, 2010.5], labels: fxYearLabels, y: 394 }]
});

// ---------- USD/NOK ----------
drawChart({
  x: d3.scaleLinear().domain([1971, 2011.78]).range([530.7, 919.3]),
  y: d3.scaleLinear().domain([4, 10]).range([379.3, 167.3]),
  T: 164, B: 383,
  grid: [5, 7, 8, 9],
  yTicks: usdNokTicks, fmt: f0, lpad: 3, rpad: 5,
  refs: [{ value: usdNokAverage, from: 1971, to: 2011.78, color: "#8c8c8c", width: 1.3 }],
  series: [{ dates: usdNokDates, values: usdNokValues, color: PURPLE, width: 1.5 }],
  xTicks: [{ values: d3.range(1971, 2012), len: 3 }],
  xLabels: [{ values: d3.range(1971, 2011, 3), labels: usdNokYearLabels, y: 399.5 }]
});

// ---------- Euro/USD ----------
drawChart({
  x: d3.scaleLinear().domain([2008, 2010.969]).range([56, 416.7]),
  y: d3.scaleLinear().domain([1.15, 1.6]).range([667.7, 459.3]),
  T: 456, B: 671,
  grid: euroUsdTicks.slice(1, -1),
  yTicks: euroUsdTicks, fmt: f2, rpad: 6,
  series: [{ dates: euroUsdDates, values: euroUsdValues, color: PURPLE }],
  xTicks: [{ values: monthPos(2008, 2011).filter(v => v < 2010.969), len: 3 }, { values: [2008, 2009, 2010], len: 6 }],
  xLabels: [{ values: labelPos3, labels: labelTxt3, y: 687.5 }, { values: [2008.5, 2009.5, 2010.5], labels: fxYearLabels, y: 700 }]
});
vlabel("EUR/USD", 20, 563);

// ---------- SEK/NOK ----------
drawChart({
  x: d3.scaleLinear().domain([1980, 2011.4]).range([535, 908.3]),
  y: d3.scaleLinear().domain([0.75, 1.2]).range([666.7, 459]),
  T: 456, B: 670,
  grid: sekNokTicks.slice(1, -1),
  yTicks: sekNokTicks, fmt: f2, lpad: 1, rpad: 6,
  refs: [{ value: sekNokTarget, from: 1980, to: sekNokDates[sekNokDates.length - 1], color: BLUE, width: 1.6, above: true }],
  series: [{ dates: sekNokDates, values: sekNokValues, color: PURPLE, width: 1.5 }],
  xTicks: [{ values: d3.range(1980, 2012), len: 3 }],
  xLabels: [{ values: d3.range(1980, 2011, 2), labels: sekNokYearLabels, y: 687 }]
});

// ---------- Oslo Børs ----------
const jan2010 = new Date(2010, 0, 1);
const dayToDate = d => d3.timeDay.offset(jan2010, d);
const osloStart = new Date(2009, 10, 23), osloEnd = new Date(2010, 11, 13);
const osloX = d3.scaleTime().domain([osloStart, osloEnd]).range([52.7, 418]);
const osloMonthTicks = d3.timeMonth.range(new Date(2009, 11, 1), new Date(2010, 11, 2));
const osloLabelPos = [new Date((osloStart.getTime() + new Date(2009, 11, 1).getTime()) / 2)]
  .concat(d3.range(0, 11).map(m => new Date(2010, m, 16)));
drawChart({
  x: osloX,
  y: d3.scaleLinear().domain([310, 420]).range([1091.7, 850]),
  T: 846, B: 1095.7,
  grid: osloTicks.slice(1, -1), vgrid: [jan2010],
  yTicks: osloTicks, fmt: f0, lpad: 2, rpad: 5,
  toX: dayToDate,
  series: [{ dates: osloDays, values: osloValues, color: PURPLE }],
  xTicks: [{ values: osloMonthTicks, len: 5 }],
  xLabels: [
    { values: osloLabelPos, labels: osloMonthLabels, y: 1115.5 },
    { values: [new Date((osloStart.getTime() + jan2010.getTime()) / 2), new Date((jan2010.getTime() + osloEnd.getTime()) / 2)], labels: osloYearLabels, y: 1129 }
  ]
});
vlabel("Index", 22, 970);

// ---------- USA og Europa ----------
const usaY = d3.scaleLinear().domain([500, 1600]).range([1094.3, 849.3]);
const usaYR = d3.scaleLinear().domain([5000, 16000]).range([1094.3, 849.3]);
const usaX = d3.scaleLinear().domain([1998, 2011.15]).range([548.3, 890.7]);
drawChart({
  x: usaX, y: usaY, yR: usaYR,
  T: 846, B: 1098.3,
  grid: europaTicks.slice(1, -1),
  yTicks: europaTicks, yRTicks: dowTicks, fmt: f0, fmtR: f0, lpad: 2, rpad: 3,
  series: [
    { dates: europaDates, values: europaValues, color: GRAY, width: 1.5 },
    { dates: dowDates, values: dowValues, color: PURPLE, width: 1.5, y: usaYR }
  ],
  xTicks: [{ values: d3.range(1998, 2012), len: 4 }],
  xLabels: [{ values: d3.range(1998, 2011).map(v => v + 0.5), labels: usaYearLabels, y: 1116.5 }]
});
vlabel("Index", 514, 972);
vlabel("Index", 938, 972);
svg.append("text").attr("x", 648).attr("y", 882).text("Europa (FTSE, Euro)")
  .attr("font-family", SANS).attr("font-size", 10.5).attr("fill", "#8a8a8a");
svg.append("line").attr("x1", 664).attr("x2", 707).attr("y1", 894.5).attr("y2", 894.5).attr("stroke", "#8a8a8a").attr("stroke-width", 1.2);
svg.append("path").attr("d", "M656,894.5 L666,891.5 L666,897.5 Z").attr("fill", "#8a8a8a");
svg.append("text").attr("x", 700).attr("y", 1067).text("USA (Dow Jones, USD)")
  .attr("font-family", SANS).attr("font-size", 10.5).attr("fill", "#2a2a2a");
svg.append("line").attr("x1", 725).attr("x2", 778).attr("y1", 1077).attr("y2", 1077).attr("stroke", "#8a8a8a").attr("stroke-width", 1.2);
svg.append("path").attr("d", "M788,1077 L777,1074 L777,1080 Z").attr("fill", PURPLE);
</script>
</body></html>
